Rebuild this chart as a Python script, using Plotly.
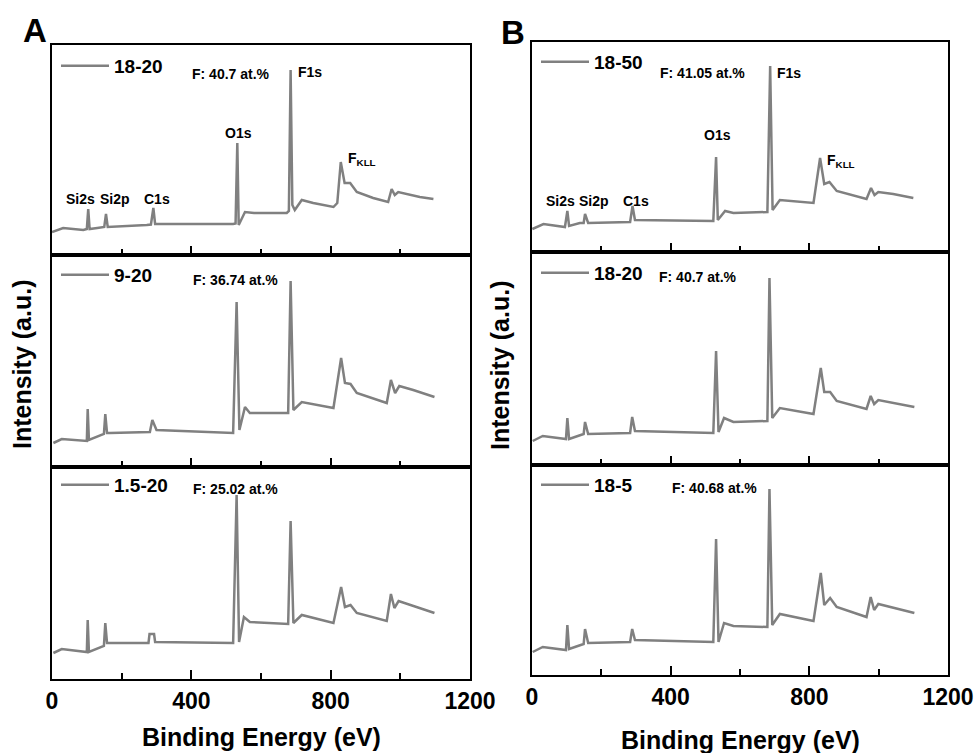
import plotly.graph_objects as go

W, H = 977, 753
GREY = "#808080"
FONT = "Liberation Sans"

# === Spectra: binding energy (eV) and intensity (a.u.) ===
# Panel A
a_1820_ev = [0, 32, 90, 100, 104, 108, 130, 150, 155, 160, 272, 284, 291, 296, 520, 527, 532, 536,
             554, 580, 674, 680, 685, 690, 697, 717, 750, 808, 819, 829, 840, 856, 875, 922, 965,
             975, 984, 994, 1056, 1095]
a_1820_int = [23, 27, 25, 26, 46, 26, 27, 28, 41, 28, 30, 30.5, 47, 31, 31, 31.5, 112, 30,
              43, 42, 42, 44, 185, 50, 45, 55, 52, 48, 52, 93, 72, 72, 63, 57, 53,
              66, 60, 63, 58, 56]

a_920_ev = [4, 28, 100, 102.5, 106, 138, 149, 153, 158, 166, 281, 288, 300, 520, 530, 538, 554, 568,
            678, 685, 693, 717, 808, 830, 841, 857, 875, 961, 973, 985, 997, 1037, 1098]
a_920_int = [24, 28, 26, 58, 27, 32, 33, 53, 34, 34, 35, 47, 37, 34, 165, 37, 60, 54,
             54, 186, 57, 65, 59, 109, 84, 83, 74, 64, 87, 74, 81, 77, 70]

a_1520_ev = [4, 28, 100, 102.5, 106, 138, 149, 153, 158, 166, 277, 280, 293, 296, 520, 530, 537, 551,
             568, 678, 685, 693, 717, 808, 830, 841, 857, 875, 961, 973, 983, 995, 1037, 1098]
a_1520_int = [26, 30, 27, 59, 27, 32, 33, 56, 36, 36, 36, 45, 45, 37, 36, 184, 37, 62,
              57, 55, 158, 56, 64, 56, 92, 72, 74, 66, 58, 85, 71, 78, 73, 66]

# Panel B
b_1850_ev = [1, 33, 95, 102, 107, 138, 149, 153, 162, 283, 290, 297, 523, 531, 536, 557, 581,
             679, 687, 694, 715, 812, 831, 843, 858, 879, 965, 978, 988, 999, 1042, 1100]
b_1850_int = [23, 28, 25, 41, 26, 29, 29, 38, 29, 30, 46, 32, 31, 95, 32, 41, 39,
              40, 186, 42, 52, 49, 94, 68, 70, 61, 53, 64, 57, 60, 58, 54]

b_1820_ev = [2, 31, 98, 102, 107, 138, 149, 153, 162, 283, 289, 297, 523, 531, 538, 554, 581,
             679, 685, 693, 715, 812, 833, 843, 860, 879, 965, 977, 987, 999, 1042, 1103]
b_1820_int = [24, 29, 26, 47, 26, 30, 31, 43, 31, 32, 48, 34, 32, 114, 33, 47, 43,
              44, 187, 47, 57, 51, 97, 73, 73, 64, 56, 69, 61, 65, 62, 58]

b_185_ev = [2, 31, 98, 102, 107, 138, 149, 153, 162, 283, 289, 297, 523, 531, 538, 554, 581,
            679, 685, 693, 715, 812, 833, 843, 860, 879, 965, 977, 987, 999, 1042, 1103]
b_185_int = [23, 28, 25, 50, 26, 30, 31, 46, 32, 33, 46, 35, 33, 136, 33, 52, 49,
             48, 186, 50, 61, 54, 102, 70, 77, 68, 58, 78, 65, 71, 67, 62]

x_ticks = [0, 400, 800, 1200]

# panel boxes in pixels: left, right, top, bottom
panels = [
    dict(ev=a_1820_ev, it=a_1820_int, name="18-20", box=(52, 470, 45, 255), leg_y=66,
         note="F: 40.7 at.%", note_xy=(514, 181), last=False),
    dict(ev=a_920_ev, it=a_920_int, name="9-20", box=(52, 470, 255, 467), leg_y=275,
         note="F: 36.74 at.%", note_xy=(527, 187), last=False),
    dict(ev=a_1520_ev, it=a_1520_int, name="1.5-20", box=(52, 470, 467, 679), leg_y=485,
         note="F: 25.02 at.%", note_xy=(527, 190), last=True),
    dict(ev=b_1850_ev, it=b_1850_int, name="18-50", box=(532, 948, 42, 252), leg_y=62,
         note="F: 41.05 at.%", note_xy=(492, 179), last=False),
    dict(ev=b_1820_ev, it=b_1820_int, name="18-20", box=(532, 948, 252, 465), leg_y=273,
         note="F: 40.7 at.%", note_xy=(480, 188), last=False),
    dict(ev=b_185_ev, it=b_185_int, name="18-5", box=(532, 948, 465, 675), leg_y=485,
         note="F: 40.68 at.%", note_xy=(525, 187), last=True),
]

fig = go.Figure()
layout = dict(
    width=W, height=H, margin=dict(l=0, r=0, t=0, b=0, autoexpand=False),
    paper_bgcolor="white", plot_bgcolor="white",
    font=dict(family=FONT, color="black"),
    annotations=[],
)

for i, p in enumerate(panels):
    n = i + 1
    sfx = "" if n == 1 else str(n)
    leg = "legend" + sfx
    x0, x1, y0, y1 = p["box"]
    fig.add_trace(go.Scatter(
        x=p["ev"], y=p["it"], mode="lines", name=p["name"],
        line=dict(color=GREY, width=2.5), xaxis="x" + sfx, yaxis="y" + sfx,
        legend=leg, showlegend=True,
    ))
    layout["xaxis" + sfx] = dict(
        domain=[x0 / W, x1 / W], anchor="y" + sfx, range=[0, 1200], automargin=False,
        tickvals=x_ticks, ticks="inside", ticklen=9, tickwidth=1.5, tickcolor="black",
        minor=dict(dtick=200, ticks="inside", ticklen=6, tickwidth=1.5, tickcolor="black"),
        showticklabels=p["last"], showgrid=False, zeroline=False,
        showline=True, mirror=True, linecolor="black", linewidth=2,
        tickfont=dict(family=FONT, size=23, weight="bold", color="black"),
    )
    layout["yaxis" + sfx] = dict(
        domain=[1 - y1 / H, 1 - y0 / H], anchor="x" + sfx, range=[0, y1 - y0], automargin=False,
        showticklabels=False, ticks="", showgrid=False, zeroline=False,
        showline=True, mirror=True, linecolor="black", linewidth=2,
    )
    layout[leg] = dict(
        x=(x0 + 4) / W, y=1 - p["leg_y"] / H, xanchor="left", yanchor="middle",
        bgcolor="rgba(0,0,0,0)", borderwidth=0, itemwidth=48,
        font=dict(family=FONT, size=19, weight="bold", color="black"),
    )
    layout["annotations"].append(dict(
        text=p["note"], x=p["note_xy"][0], y=p["note_xy"][1], xref="x" + sfx, yref="y" + sfx,
        showarrow=False, font=dict(family=FONT, size=14, weight="bold"),
    ))

# peak labels on the top panels
peak_labels = [
    ("F1s", 742, 183), ("O1s", 534, 122), ("Si2s", 83, 56), ("Si2p", 181, 56),
    ("C1s", 300, 56), ("F<sub>KLL</sub>", 890, 96),
]
peak_labels_b = [
    ("F1s", 741, 179), ("O1s", 535, 117), ("Si2s", 82, 51), ("Si2p", 180, 51),
    ("C1s", 299, 51), ("F<sub>KLL</sub>", 891, 91),
]
for txt, x, y in peak_labels:
    layout["annotations"].append(dict(text=txt, x=x, y=y, xref="x", yref="y", showarrow=False,
                                      font=dict(family=FONT, size=14, weight="bold")))
for txt, x, y in peak_labels_b:
    layout["annotations"].append(dict(text=txt, x=x, y=y, xref="x4", yref="y4", showarrow=False,
                                      font=dict(family=FONT, size=14, weight="bold")))

# axis titles and panel letters
for txt, x, y, ang, size in [
    ("Binding Energy (eV)", 261, 737, 0, 25),
    ("Binding Energy (eV)", 740, 740, 0, 25),
    ("Intensity (a.u.)", 22, 365, -90, 25),
    ("Intensity (a.u.)", 500, 366, -90, 25),
    ("A", 35, 31, 0, 33),
    ("B", 513, 33, 0, 33),
]:
    layout["annotations"].append(dict(
        text=txt, x=x / W, y=1 - y / H, xref="paper", yref="paper", showarrow=False,
        textangle=ang, xanchor="center", yanchor="middle",
        font=dict(family=FONT, size=size, weight="bold", color="black"),
    ))

fig.update_layout(**layout)
# drop the default page margin so the 977x753 figure fills the window exactly
fig.write_html("out.html", config={"displayModeBar": False},
               post_script="document.body.style.margin='0';")
